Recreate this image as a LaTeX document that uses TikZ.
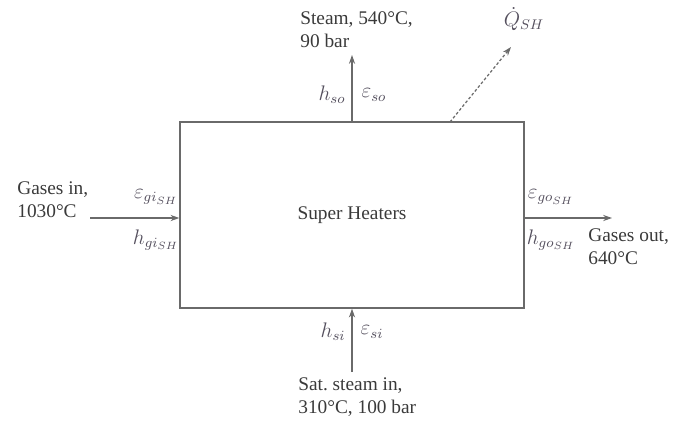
\documentclass[tikz,border=0pt]{standalone}
\usepackage{fontspec}
\setmainfont{Liberation Serif}
\usetikzlibrary{arrows.meta}
\definecolor{linegray}{HTML}{6A6A6A}
\definecolor{txtgray}{HTML}{3A3A3A}
\definecolor{symgray}{HTML}{55505E}

\begin{document}
\begin{tikzpicture}[x=0.02cm, y=-0.02cm, font=\fontsize{11}{13}\selectfont,
    every node/.style={inner sep=0pt, text=txtgray},
    info/.style={align=left, anchor=west},
    sym/.style={text=symgray, font=\fontsize{11.5}{13}\selectfont},
    flow/.style={draw=linegray, line width=0.7pt, -{Stealth[length=5pt,width=3.5pt]}}]
    \useasboundingbox (0,0) rectangle (689,423);

    \node (box) [draw=linegray, line width=0.8pt, minimum width=6.88cm, minimum height=3.72cm] at (352,215) {Super Heaters};

    \coordinate (gin) at (90,218);
    \coordinate (gout) at (612,218);
    \coordinate (sout) at (352,55);
    \coordinate (sin) at (352,372);
    \coordinate (qs) at (450,122);
    \coordinate (qe) at (511,47);

    \node (gasin) [info] at (17,200) {Gases in,\\1030°C};
    \node (steamout) [info] at (300,30) {Steam, 540°C,\\90 bar};
    \node (gasout) [info] at (588,247) {Gases out,\\640°C};
    \node (steamin) [info] at (298,397) {Sat.\ steam in,\\310°C, 100 bar};
    \node (qsh) [sym] at (524,19) {$\dot{Q}_{SH}$};

    \node (egi) [sym] at (156,197) {$\varepsilon_{gi_{SH}}$};
    \node (hgi) [sym] at (156,240) {$h_{gi_{SH}}$};
    \node (ego) [sym] at (551,197) {$\varepsilon_{go_{SH}}$};
    \node (hgo) [sym] at (551,240) {$h_{go_{SH}}$};
    \node (hso) [sym] at (332,95) {$h_{so}$};
    \node (eso) [sym] at (374,95) {$\varepsilon_{so}$};
    \node (hsi) [sym] at (333,332) {$h_{si}$};
    \node (esi) [sym] at (372,332) {$\varepsilon_{si}$};

    \draw[flow] (gin) -- (gin -| box.west);
    \draw[flow] (gout -| box.east) -- (gout);
    \draw[flow] (box.north) -- (sout);
    \draw[flow] (sin) -- (box.south);
    \draw[flow, dash pattern=on 1.6pt off 1.2pt] (qs) -- (qe);
\end{tikzpicture}
\end{document}
